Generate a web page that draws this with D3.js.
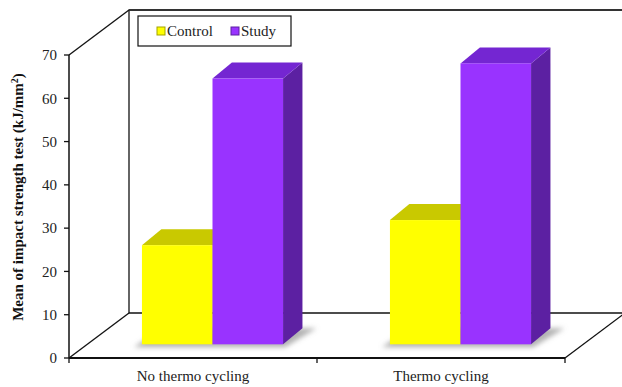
<!DOCTYPE html>
<html>
<head>
<meta charset="utf-8">
<script src="https://cdn.jsdelivr.net/npm/d3@7"></script>
<style>
  html, body { margin: 0; padding: 0; background: #fff; }
  svg { display: block; }
</style>
</head>
<body>
<svg id="chart" width="622" height="387"></svg>
<script>
// Impact strength data (kJ/mm²)
const categories = ["No thermo cycling", "Thermo cycling"];
const seriesNames = ["Control", "Study"];
const controlValues = [22.9, 28.7];
const studyValues = [61.4, 64.9];
const yTicks = [0, 10, 20, 30, 40, 50, 60, 70];

const seriesColors = {
  Control: { front: "#ffff00", top: "#c9c900", side: "#a3a300" },
  Study:   { front: "#9933ff", top: "#7426d2", side: "#5c20a2" }
};

const FONT = "'Liberation Serif', 'Times New Roman', Times, serif";

const svg = d3.select("#chart")
  .attr("font-family", FONT);

// Plot frame: front plane and depth offset of the back wall
const x0 = 69, x1 = 565, yBase = 358, yTop = 55;
const depth = { dx: 60, dy: 45 };
// Bars sit part way into the floor; their own depth
const barFront = { dx: 19.5, dy: 13.7 };
const barDepth = { dx: 19.4, dy: 16 };

const y = d3.scaleLinear().domain([0, 70]).range([yBase, yTop]);
const xCat = d3.scaleBand().domain(categories).range([x0, x1])
  .paddingInner(0.431).paddingOuter(0.2155);
const xSeries = d3.scaleBand().domain(seriesNames).range([0, xCat.bandwidth()]);

// Shadow filter for the bar footprints
const defs = svg.append("defs");
defs.append("filter").attr("id", "soft").attr("x", "-50%").attr("y", "-50%")
  .attr("width", "200%").attr("height", "200%")
  .append("feGaussianBlur").attr("stdDeviation", 2.5);

// Walls and floor outlines
const frame = svg.append("g").attr("fill", "none").attr("stroke", "#111");
const lines = [
  [[x0 + depth.dx, yBase - depth.dy], [x0 + depth.dx, yTop - depth.dy - 0.5]],
  [[x0 + depth.dx, yTop - depth.dy], [640, yTop - depth.dy]],
  [[x0 + depth.dx, yBase - depth.dy], [x1 + depth.dx, yBase - depth.dy]],
  [[x0, yBase], [x0 + depth.dx, yBase - depth.dy]],
  [[x0, yTop], [x0 + depth.dx, yTop - depth.dy]],
  [[x1, yBase], [x1 + depth.dx, yBase - depth.dy]]
];
lines.forEach(l => frame.append("path").attr("d", d3.line()(l)).attr("stroke-width", 1.3));
frame.select("path:nth-child(2)").attr("stroke-width", 1.8).attr("stroke", "#333");

// Bars data
const bars = [];
categories.forEach((c, i) => {
  bars.push({ cat: c, s: "Control", v: controlValues[i] });
  bars.push({ cat: c, s: "Study", v: studyValues[i] });
});

function geom(d) {
  const xl = xCat(d.cat) + xSeries(d.s) + barFront.dx;
  const xr = xl + xSeries.bandwidth();
  const yb = y(0) - barFront.dy;
  const yt = y(d.v) - barFront.dy;
  return { xl, xr, yb, yt };
}

// Floor shadows
const shadowG = svg.append("g").attr("filter", "url(#soft)");
categories.forEach(c => {
  const xl = xCat(c) + barFront.dx;
  const xr = xl + xCat.bandwidth();
  const yb = y(0) - barFront.dy;
  shadowG.append("path")
    .attr("d", d3.line()([
      [xl - 8, yb + 3], [xr + 2, yb + 3],
      [xr + barDepth.dx + 14, yb - barDepth.dy], [xl + barDepth.dx, yb - barDepth.dy]
    ]))
    .attr("fill", "#9a9a9a").attr("opacity", 0.75);
});

// 3D bars: side, top, front
const barG = svg.append("g");
bars.forEach(d => {
  const g = geom(d), col = seriesColors[d.s];
  const bx = barDepth.dx, by = barDepth.dy;
  barG.append("path").attr("fill", col.side)
    .attr("d", d3.line()([[g.xr, g.yt], [g.xr + bx, g.yt - by], [g.xr + bx, g.yb - by], [g.xr, g.yb]]));
  barG.append("path").attr("fill", col.top)
    .attr("d", d3.line()([[g.xl, g.yt], [g.xl + bx, g.yt - by], [g.xr + bx, g.yt - by], [g.xr, g.yt]]));
  barG.append("rect").attr("fill", col.front)
    .attr("x", g.xl).attr("y", g.yt).attr("width", g.xr - g.xl).attr("height", g.yb - g.yt);
});

// Front axes drawn over everything
const axisG = svg.append("g").attr("stroke", "#111").attr("fill", "none");
axisG.append("path").attr("d", d3.line()([[x0, yTop], [x0, yBase]])).attr("stroke-width", 1.5);
axisG.append("path").attr("d", d3.line()([[x0, yBase], [x1, yBase]])).attr("stroke-width", 1.8);

// Y ticks and labels
const yAxis = svg.append("g");
yTicks.forEach(t => {
  yAxis.append("line").attr("x1", x0 - 5).attr("x2", x0).attr("y1", y(t)).attr("y2", y(t))
    .attr("stroke", "#111").attr("stroke-width", 1.3);
  yAxis.append("text").attr("x", x0 - 12).attr("y", y(t)).attr("dy", "0.35em")
    .attr("font-family", FONT).attr("fill", "#222")
    .attr("text-anchor", "end").attr("font-size", 15).text(t);
});

// Category boundary ticks and labels
const catEdges = [x0, x0 + xCat.step(), x1];
catEdges.forEach(xe => {
  svg.append("line").attr("x1", xe).attr("x2", xe).attr("y1", yBase).attr("y2", yBase + 5)
    .attr("stroke", "#111").attr("stroke-width", 1.3);
});
categories.forEach(c => {
  svg.append("text").attr("x", xCat(c) + xCat.bandwidth() / 2).attr("y", 381)
    .attr("font-family", FONT).attr("fill", "#222")
    .attr("text-anchor", "middle").attr("font-size", 15).text(c);
});

// Y axis title
const title = svg.append("text")
  .attr("transform", "translate(23,197) rotate(-90)")
  .attr("font-family", FONT).attr("fill", "#111")
  .attr("text-anchor", "middle").attr("font-size", 15).attr("font-weight", "bold");
title.append("tspan").text("Mean of impact strength test (kJ/mm");
title.append("tspan").attr("font-size", 10).attr("dy", -5).text("2");
title.append("tspan").attr("dy", 5).text(")");

// Legend
const legend = svg.append("g");
legend.append("rect").attr("x", 138).attr("y", 16).attr("width", 153).attr("height", 30)
  .attr("fill", "#fff").attr("stroke", "#111").attr("stroke-width", 1.2);
const legendPos = { Control: 157, Study: 231 };
seriesNames.forEach(s => {
  const lx = legendPos[s];
  legend.append("rect").attr("x", lx).attr("y", 27).attr("width", 8).attr("height", 8)
    .attr("fill", seriesColors[s].front).attr("stroke", seriesColors[s].side).attr("stroke-width", 1);
  legend.append("text").attr("x", lx + 10).attr("y", 36)
    .attr("font-family", FONT).attr("fill", "#222").attr("font-size", 15).text(s);
});
</script>
</body>
</html>
